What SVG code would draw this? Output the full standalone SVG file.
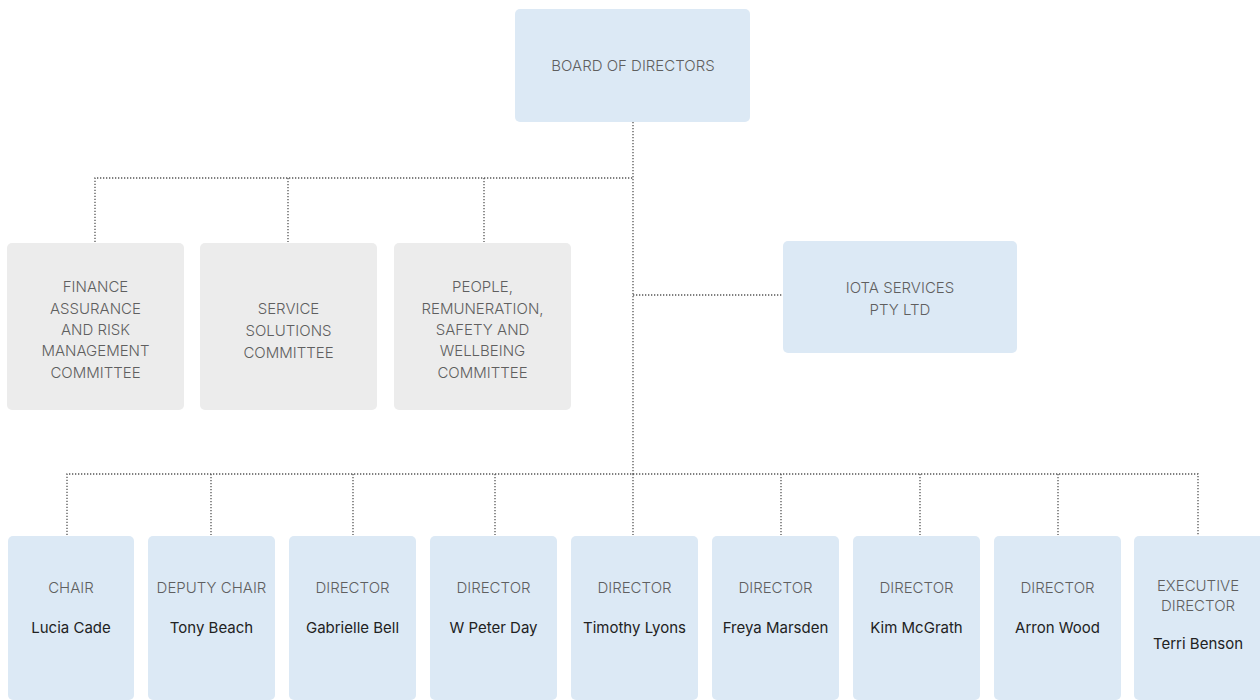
<svg xmlns="http://www.w3.org/2000/svg" width="1260" height="700" viewBox="0 0 1260 700">
<style>
.blue{fill:#dce9f5}
.grey{fill:#ececec}
.lbl{font-family:Inter,"Liberation Sans",sans-serif;font-size:15px;font-weight:300;fill:#5f5f5f;text-anchor:middle}
.name{font-family:Inter,"Liberation Sans",sans-serif;font-size:15px;font-weight:400;fill:#222;text-anchor:middle}
.conn{fill:none;stroke:#555;stroke-width:1.3;stroke-dasharray:1.3 1.7}
</style>
<rect width="1260" height="700" fill="#fff"/>
<g id="connectors">
<path class="conn" d="M633 122V474"/>
<path class="conn" d="M95 242V178H633"/>
<path class="conn" d="M288 178V242"/>
<path class="conn" d="M484 178V242"/>
<path class="conn" d="M633 295H783"/>
<path class="conn" d="M67 535V474H1198V535"/>
<path class="conn" d="M211 474V535"/>
<path class="conn" d="M353 474V535"/>
<path class="conn" d="M495 474V535"/>
<path class="conn" d="M633 474V535"/>
<path class="conn" d="M781 474V535"/>
<path class="conn" d="M920 474V535"/>
<path class="conn" d="M1058 474V535"/>
</g>
<g id="board"><rect class="blue" x="515" y="9" width="235" height="113" rx="5"/><text class="lbl" x="633" y="70.5">BOARD OF DIRECTORS</text></g>
<g id="finance"><rect class="grey" x="7" y="243" width="177" height="167" rx="5"/>
<text class="lbl"><tspan x="95.5" y="291.5">FINANCE</tspan><tspan x="95.5" y="313.5">ASSURANCE</tspan><tspan x="95.5" y="334.5">AND RISK</tspan><tspan x="95.5" y="355.5">MANAGEMENT</tspan><tspan x="95.5" y="377.5">COMMITTEE</tspan></text></g>
<g id="service"><rect class="grey" x="200" y="243" width="177" height="167" rx="5"/>
<text class="lbl"><tspan x="288.5" y="313.5">SERVICE</tspan><tspan x="288.5" y="335.5">SOLUTIONS</tspan><tspan x="288.5" y="357.5">COMMITTEE</tspan></text></g>
<g id="people"><rect class="grey" x="394" y="243" width="177" height="167" rx="5"/>
<text class="lbl"><tspan x="482.5" y="291.5">PEOPLE,</tspan><tspan x="482.5" y="313.5">REMUNERATION,</tspan><tspan x="482.5" y="334.5">SAFETY AND</tspan><tspan x="482.5" y="355.5">WELLBEING</tspan><tspan x="482.5" y="377.5">COMMITTEE</tspan></text></g>
<g id="iota"><rect class="blue" x="783" y="241" width="234" height="112" rx="5"/>
<text class="lbl"><tspan x="900" y="292.5">IOTA SERVICES</tspan><tspan x="900" y="314.5">PTY LTD</tspan></text></g>
<g id="chair"><rect class="blue" x="8" y="536" width="126" height="164" rx="5"/><text class="lbl" x="71" y="592.5">CHAIR</text><text class="name" x="71" y="632.5">Lucia Cade</text></g>
<g id="deputy"><rect class="blue" x="148" y="536" width="127" height="164" rx="5"/><text class="lbl" x="211.5" y="592.5">DEPUTY CHAIR</text><text class="name" x="211.5" y="632.5">Tony Beach</text></g>
<g id="d1"><rect class="blue" x="289" y="536" width="127" height="164" rx="5"/><text class="lbl" x="352.5" y="592.5">DIRECTOR</text><text class="name" x="352.5" y="632.5">Gabrielle Bell</text></g>
<g id="d2"><rect class="blue" x="430" y="536" width="127" height="164" rx="5"/><text class="lbl" x="493.5" y="592.5">DIRECTOR</text><text class="name" x="493.5" y="632.5">W Peter Day</text></g>
<g id="d3"><rect class="blue" x="571" y="536" width="127" height="164" rx="5"/><text class="lbl" x="634.5" y="592.5">DIRECTOR</text><text class="name" x="634.5" y="632.5">Timothy Lyons</text></g>
<g id="d4"><rect class="blue" x="712" y="536" width="127" height="164" rx="5"/><text class="lbl" x="775.5" y="592.5">DIRECTOR</text><text class="name" x="775.5" y="632.5">Freya Marsden</text></g>
<g id="d5"><rect class="blue" x="853" y="536" width="127" height="164" rx="5"/><text class="lbl" x="916.5" y="592.5">DIRECTOR</text><text class="name" x="916.5" y="632.5">Kim McGrath</text></g>
<g id="d6"><rect class="blue" x="994" y="536" width="127" height="164" rx="5"/><text class="lbl" x="1057.5" y="592.5">DIRECTOR</text><text class="name" x="1057.5" y="632.5">Arron Wood</text></g>
<g id="exec"><rect class="blue" x="1134" y="536" width="132" height="164" rx="5"/><text class="lbl"><tspan x="1198" y="590.5">EXECUTIVE</tspan><tspan x="1198" y="610.5">DIRECTOR</tspan></text><text class="name" x="1198" y="648.5">Terri Benson</text></g>
</svg>
